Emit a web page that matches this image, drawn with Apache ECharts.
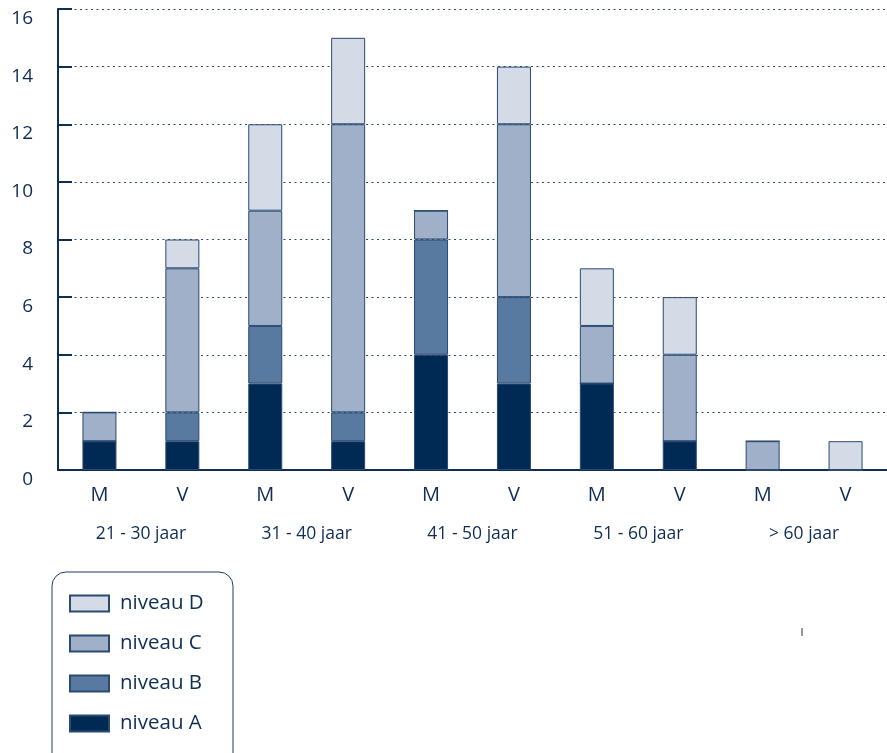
<!DOCTYPE html>
<html>
<head>
<meta charset="utf-8">
<script src="https://cdn.jsdelivr.net/npm/echarts@6/dist/echarts.min.js"></script>
<style>
  html, body { margin: 0; padding: 0; background: #fff; }
  #chart { width: 887px; height: 753px; }
</style>
</head>
<body>
<div id="chart"></div>
<script>
// geslacht per balk, leeftijdsgroepen eronder
const categories = ['M', 'V', 'M', 'V', 'M', 'V', 'M', 'V', 'M', 'V'];
const groups = ['21 - 30 jaar', '31 - 40 jaar', '41 - 50 jaar', '51 - 60 jaar', '> 60 jaar'];

// aantallen per niveau
const niveauA = [1, 1, 3, 1, 4, 3, 3, 1, 0, 0];
const niveauB = [0, 1, 2, 1, 4, 3, 0, 0, 0, 0];
const niveauC = [1, 5, 4, 10, 1, 6, 2, 3, 1, 0];
const niveauD = [0, 1, 3, 3, 0, 2, 2, 2, 0, 1];

const navy = '#0f2d55';
const edge = '#2a4a72';
const font = 'Open Sans';

const chart = echarts.init(document.getElementById('chart'));

function bar(name, data, color) {
  return {
    name: name,
    type: 'bar',
    stack: 'totaal',
    barWidth: 34,
    data: data,
    itemStyle: { color: color, borderColor: edge, borderWidth: 1 }
  };
}

chart.setOption({
  animation: false,
  textStyle: { fontFamily: font, color: navy },
  grid: { left: 58, right: -1, top: 9, bottom: 283 },
  legend: {
    orient: 'vertical',
    left: 69,
    top: 593,
    data: ['niveau D', 'niveau C', 'niveau B', 'niveau A'],
    icon: 'rect',
    itemWidth: 39,
    itemHeight: 16,
    itemGap: 19,
    padding: 0,
    textStyle: { fontFamily: font, fontSize: 20.5, color: navy, padding: [0, 0, 0, 6] }
  },
  xAxis: [
    {
      type: 'category',
      data: categories,
      axisLine: { lineStyle: { color: navy, width: 2 } },
      axisTick: { inside: true, length: 7, lineStyle: { color: navy, width: 2 } },
      axisLabel: { margin: 15, fontSize: 20, color: navy, fontFamily: font }
    },
    {
      type: 'category',
      data: groups,
      position: 'bottom',
      axisLine: { show: false },
      axisTick: { inside: true, length: 20, lineStyle: { color: navy, width: 2 } },
      axisLabel: { margin: 55, fontSize: 17.5, color: navy, fontFamily: font }
    }
  ],
  yAxis: {
    type: 'value',
    min: 0,
    max: 16,
    interval: 2,
    axisLine: { show: true, lineStyle: { color: navy, width: 2 } },
    axisTick: { show: true, inside: true, length: 14, lineStyle: { color: navy, width: 2 } },
    axisLabel: { margin: 25, fontSize: 19, color: navy, fontFamily: font, verticalAlign: 'top' },
    splitLine: { lineStyle: { color: '#2a4a72', width: 1, type: [2, 3.5] } }
  },
  series: [
    bar('niveau A', niveauA, '#002a54'),
    bar('niveau B', niveauB, '#587aa0'),
    bar('niveau C', niveauC, '#9fb0c8'),
    bar('niveau D', niveauD, '#d4dbe6')
  ],
  graphic: [
    {
      type: 'rect',
      shape: { x: 52, y: 572, width: 181, height: 200, r: 14 },
      style: { fill: 'none', stroke: '#1d3d66', lineWidth: 1 }
    },
    { type: 'line', shape: { x1: 802, y1: 628, x2: 802, y2: 636 }, style: { stroke: '#333', lineWidth: 1 } }
  ]
});
</script>
</body>
</html>
